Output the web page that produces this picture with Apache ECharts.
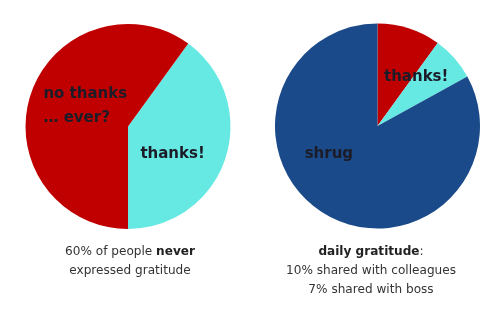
<!DOCTYPE html>
<html><head><meta charset="utf-8">
<script src="https://cdn.jsdelivr.net/npm/echarts@6/dist/echarts.min.js"></script>
<style>html,body{margin:0;padding:0;background:#fff}#c{width:500px;height:313px}</style>
</head><body><div id="c"></div>
<script>
const leftCategories = ['thanks!', 'no thanks\n… ever?'];
const leftValues = [40, 60];
const rightCategories = ['colleagues', 'thanks!', 'shrug'];
const rightValues = [10, 7, 83];
const leftCaption = ['60% of people ', 'never', 'expressed gratitude'];
const rightCaption = ['daily gratitude', ':', '10% shared with colleagues', '7% shared with boss'];

const RED = '#c00000', CYAN = '#66e8e3', BLUE = '#1a4a89';
const FONT = 'DejaVu Sans';
const labelStyle = {show: true, position: 'inside', color: '#1c1c28', fontSize: 15, fontWeight: 'bold', fontFamily: FONT, lineHeight: 24};

const capRich = {
  n: {fontFamily: FONT, fontSize: 12.1, color: '#333', fontWeight: 'normal', lineHeight: 19},
  b: {fontFamily: FONT, fontSize: 12.1, color: '#222', fontWeight: 'bold', lineHeight: 19}
};

const chart = echarts.init(document.getElementById('c'), null, {renderer: 'canvas'});
chart.setOption({
  animation: false,
  title: [
    {left: 130, top: 242, textAlign: 'center', padding: 0,
     text: '{n|' + leftCaption[0] + '}{b|' + leftCaption[1] + '}\n{n|' + leftCaption[2] + '}',
     textStyle: {fontWeight: 'normal', rich: capRich}},
    {left: 371, top: 242, textAlign: 'center', padding: 0,
     text: '{b|' + rightCaption[0] + '}{n|' + rightCaption[1] + '}\n{n|' + rightCaption[2] + '}\n{n|' + rightCaption[3] + '}',
     textStyle: {fontWeight: 'normal', rich: capRich}}
  ],
  series: [
    {type: 'pie', center: [128, 126.5], radius: [0, 102.5], startAngle: 54, clockwise: true,
     silent: true, labelLine: {show: false},
     itemStyle: {borderWidth: 0},
     data: [
       {name: leftCategories[0], value: leftValues[0], itemStyle: {color: CYAN},
        label: Object.assign({}, labelStyle, {offset: [-7, 11], formatter: '{b}'})},
       {name: leftCategories[1], value: leftValues[1], itemStyle: {color: RED},
        label: Object.assign({}, labelStyle, {offset: [10, -4],
          formatter: function (p) { return p.name.split('\n').map(s => '{a|' + s + '}').join('\n'); },
          rich: {a: {width: 86, align: 'left', fontSize: 15, fontWeight: 'bold', fontFamily: FONT, color: '#1c1c28', lineHeight: 24}}})}
     ]},
    {type: 'pie', center: [377.5, 126], radius: [0, 102.5], startAngle: 90, clockwise: true,
     silent: true, labelLine: {show: false},
     itemStyle: {borderWidth: 0},
     data: [
       {name: rightCategories[0], value: rightValues[0], itemStyle: {color: RED}, label: {show: false}},
       {name: rightCategories[1], value: rightValues[1], itemStyle: {color: CYAN},
        label: Object.assign({}, labelStyle, {offset: [-2, -13], formatter: '{b}'})},
       {name: rightCategories[2], value: rightValues[2], itemStyle: {color: BLUE},
        label: Object.assign({}, labelStyle, {offset: [-21, -19], formatter: '{b}'})}
     ]}
  ]
});
</script></body></html>
